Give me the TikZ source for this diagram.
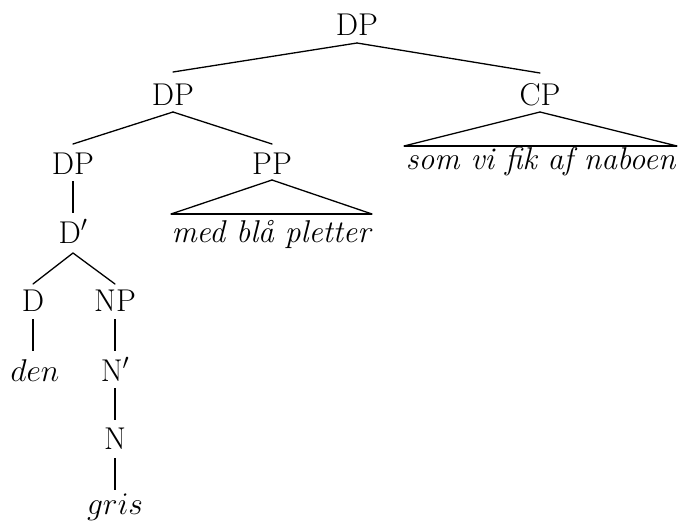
\RequirePackage{fix-cm}
\documentclass[tikz,border=0pt]{standalone}
\begin{document}
\begin{tikzpicture}[x=1pt,y=-1pt,
  lbl/.style={inner sep=0pt,anchor=base,font=\fontsize{31.5}{36}\selectfont},
  edge/.style={line width=1.3pt,line cap=round},
  vedge/.style={line width=2pt},
  basel/.style={line width=2.2pt}]
\useasboundingbox (0,0) rectangle (678,523);
% nodes
\node[lbl] (dp0) at (357,35) {DP};
\node[lbl] (dp1) at (173,105) {DP};
\node[lbl] (cp) at (540,105) {CP};
\node[lbl] (dp2) at (73,174) {DP};
\node[lbl] (pp) at (272,174) {PP};
\node[lbl] (dbar) at (73,243) {D$'$};
\node[lbl] (d) at (33,311) {D};
\node[lbl] (np) at (115,311) {NP};
\node[lbl] (den) at (35,381) {$den$};
\node[lbl] (nbar) at (115,381) {N$'$};
\node[lbl] (n) at (115,449) {N};
\node[lbl] (gris) at (115,514) {$gris$};
\node[lbl] (med) at (272,242) {\textit{med blå pletter}};
\node[lbl] (som) at (541,169) {\textit{som vi fik af naboen}};
% edges
\draw[edge] ([yshift=-8pt]dp0.base) -- ([yshift=33pt]dp1.base);
\draw[edge] ([yshift=-8pt]dp0.base) -- ([yshift=32pt]cp.base);
\draw[edge] ([yshift=-7pt]dp1.base) -- ([yshift=30pt]dp2.base);
\draw[edge] ([yshift=-7pt]dp1.base) -- ([yshift=30pt]pp.base);
\draw[vedge] ([yshift=-7pt]dp2.base) -- ([yshift=30pt]dbar.base);
\draw[edge] ([yshift=-10pt]dbar.base) -- ([yshift=27pt]d.base);
\draw[edge] ([yshift=-10pt]dbar.base) -- ([yshift=27pt]np.base);
\draw[vedge] ([yshift=-8pt]d.base) -- ([xshift=-2pt,yshift=30pt]den.base);
\draw[vedge] ([yshift=-8pt]np.base) -- ([yshift=30pt]nbar.base);
\draw[vedge] ([yshift=-7pt]nbar.base) -- ([yshift=29pt]n.base);
\draw[vedge] ([yshift=-9pt]n.base) -- ([yshift=24pt]gris.base);
% triangles
\draw[edge] ([yshift=-6pt]pp.base) -- ([xshift=-101pt,yshift=28pt]med.base);
\draw[edge] ([yshift=-6pt]pp.base) -- ([xshift=100pt,yshift=28pt]med.base);
\draw[basel] ([xshift=-101pt,yshift=28pt]med.base) -- ([xshift=100pt,yshift=28pt]med.base);
\draw[edge] ([yshift=-7pt]cp.base) -- ([xshift=-137pt,yshift=23pt]som.base);
\draw[edge] ([yshift=-7pt]cp.base) -- ([xshift=136pt,yshift=23pt]som.base);
\draw[basel] ([xshift=-137pt,yshift=23pt]som.base) -- ([xshift=136pt,yshift=23pt]som.base);
\end{tikzpicture}
\end{document}
